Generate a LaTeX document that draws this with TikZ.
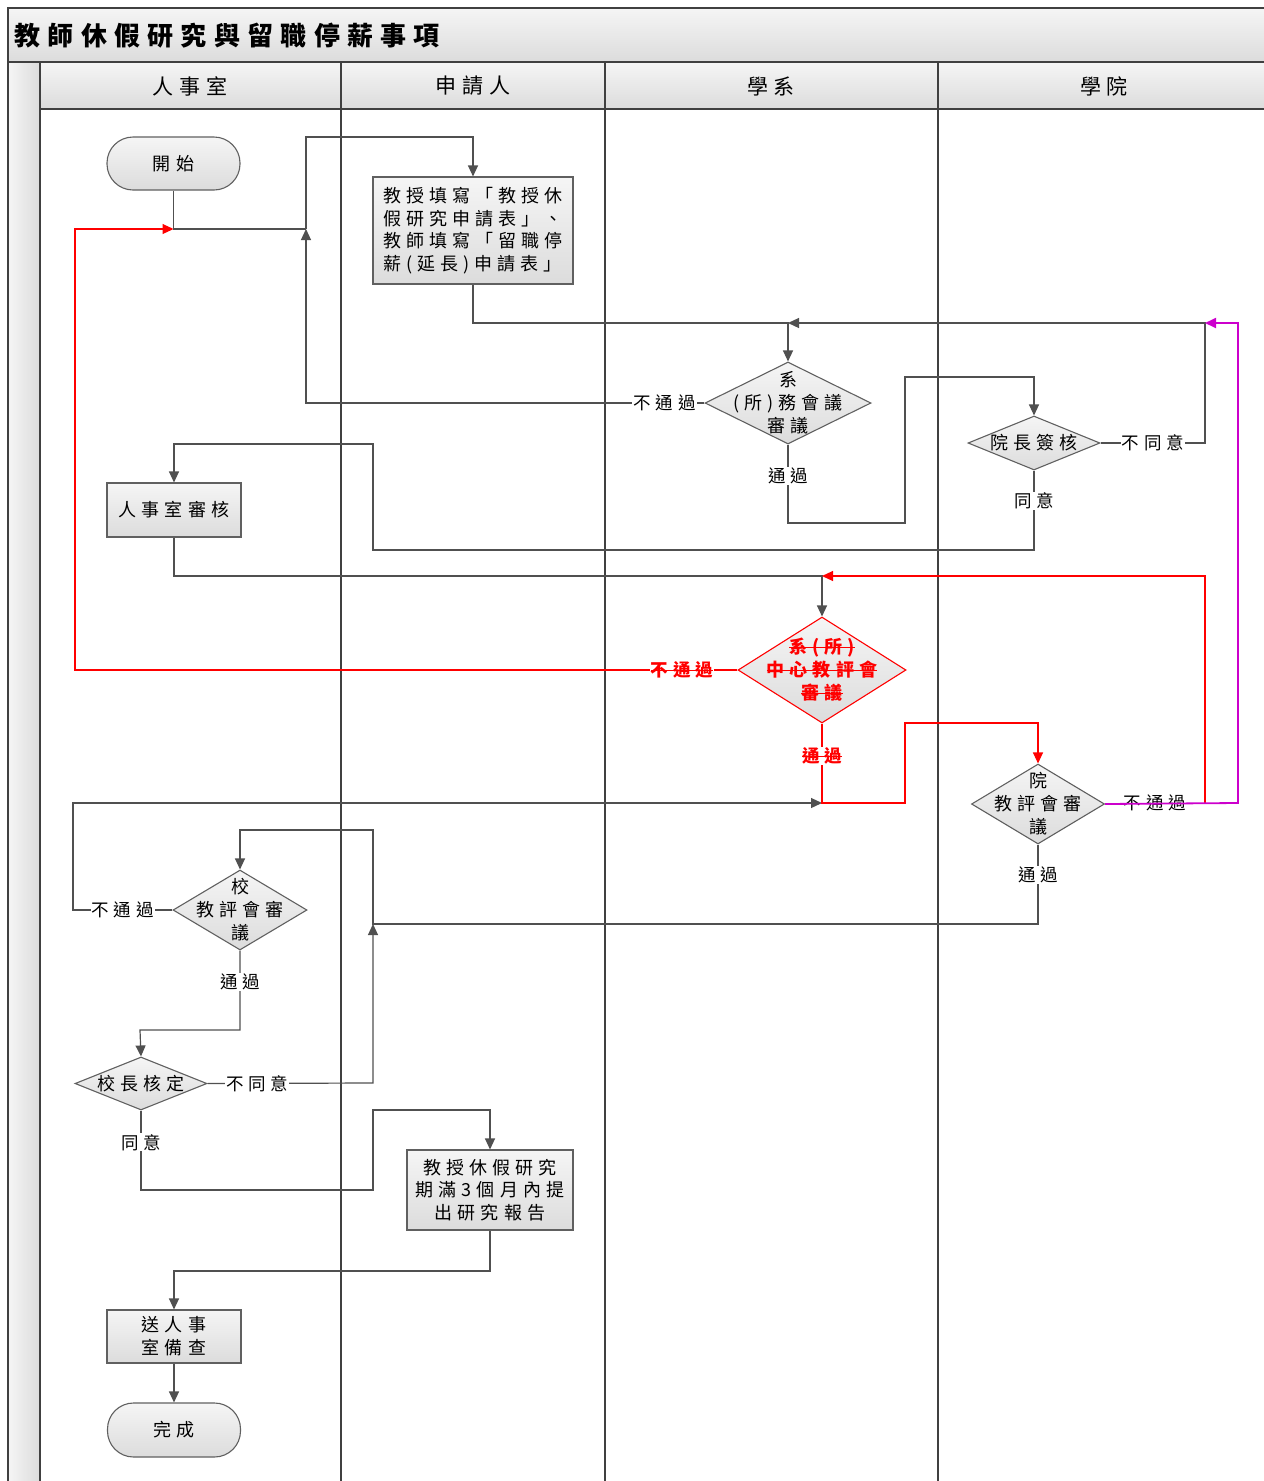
\documentclass[tikz,border=0pt]{standalone}
\usepackage{fontspec}
\setmainfont{Noto Sans CJK TC}[LetterSpace=28]
\usetikzlibrary{shapes.geometric,arrows.meta,positioning}

\definecolor{lineg}{HTML}{505050}
\definecolor{laneg}{HTML}{404040}
\definecolor{boxg}{HTML}{606060}
\definecolor{shtop}{HTML}{F5F5F5}
\definecolor{shbot}{HTML}{DCDCDC}
\definecolor{magen}{HTML}{CC00CC}

% struck-out text
\newcommand\strk[1]{\sbox0{#1}\rlap{\rule[0.34em]{\wd0}{0.9pt}}\usebox0}

\tikzset{
  line/.style={draw=lineg, line width=1.2pt},
  arr/.style={line, -{Triangle[length=11pt,width=10pt]}},
  redarr/.style={draw=red, line width=1.1pt, -{Triangle[length=11pt,width=10pt]}},
  lane/.style={draw=laneg, line width=1.4pt},
  box/.style={draw=boxg, line width=1.1pt, top color=shtop, bottom color=shbot,
    inner sep=0pt, font=\fontsize{18pt}{22.7pt}\selectfont},
  proc/.style={box, rectangle, align=center},
  term/.style={box, rectangle, rounded corners=26pt},
  decide/.style={box, diamond},
  intext/.style={font=\fontsize{18pt}{23pt}\selectfont, align=center, inner sep=0pt},
  lbl/.style={fill=white, inner sep=1pt, font=\fontsize{17.5pt}{20pt}\selectfont},
  redlbl/.style={lbl, text=red, font=\fontsize{17.5pt}{20pt}\selectfont\bfseries},
  hdr/.style={font=\fontsize{21pt}{24pt}\selectfont},
}

\begin{document}
\begin{tikzpicture}[x=1pt, y=-1pt]
    \useasboundingbox (0,0) rectangle (1264,1481);

    % Title band, header row and left strip
    \shade[top color=shtop, bottom color=shbot] (8,8) rectangle (1264,62);
    \shade[top color=shtop, bottom color=shbot] (40,62) rectangle (1264,109);
    \shade[left color=shtop, right color=shbot] (8,62) rectangle (40,1481);
    \draw[lane] (8,1481) -- (8,8) -- (1264,8);
    \draw[lane] (8,62) -- (1264,62);
    \draw[lane] (40,109) -- (1264,109);
    \foreach \x in {40,341,605,938}
        \draw[lane] (\x,62) -- (\x,1481);

    \node[anchor=west, font=\fontsize{26pt}{30pt}\selectfont\bfseries] (title) at (11,36) {教師休假研究與留職停薪事項};
    \node[hdr] (hHR) at (190,86) {人事室};
    \node[hdr] (hApp) at (473,86) {申請人};
    \node[hdr] (hDep) at (771,86) {學系};
    \node[hdr] (hCol) at (1104,86) {學院};

    % Define nodes
    \node[term, minimum width=133pt, minimum height=53pt] (start) at (173.5,163.5) {開始};
    \node[proc, align=left, minimum width=200pt, minimum height=107pt] (apply) at (473,230.5)
        {教授填寫「教授休\\假研究申請表」、\\教師填寫「留職停\\薪(延長)申請表」};
    \node[decide, minimum width=166pt, minimum height=82pt,
        label={[intext]center:{系\\(所)務會議\\審議}}] (sysmeet) at (788,403) {};
    \node[decide, minimum width=132pt, minimum height=54pt,
        label={[intext]center:{院長簽核}}] (deanok) at (1034,443) {};
    \node[proc, minimum width=134pt, minimum height=54pt] (hrcheck) at (174,510) {人事室審核};
    \node[decide, draw=red, minimum width=168pt, minimum height=106pt,
        label={[intext, text=red, font=\fontsize{18pt}{23pt}\selectfont\bfseries]center:{\strk{系(所)}\\\strk{中心教評會}\\\strk{審議}}}] (redmeet) at (822,670) {};
    \node[decide, minimum width=133pt, minimum height=80pt,
        label={[intext]center:{院\\教評會審\\議}}] (colmeet) at (1038,804) {};
    \node[decide, minimum width=134pt, minimum height=80pt,
        label={[intext]center:{校\\教評會審\\議}}] (unimeet) at (240,910) {};
    \node[decide, minimum width=132pt, minimum height=53pt,
        label={[intext]center:{校長核定}}] (presok) at (141,1083.5) {};
    \node[proc, minimum width=166pt, minimum height=80pt] (report) at (490,1190)
        {教授休假研究\\期滿3個月內提\\出研究報告};
    \node[proc, minimum width=134pt, minimum height=53pt] (send) at (174,1336.5) {送人事\\室備查};
    \node[term, minimum width=133pt, minimum height=54pt] (done) at (174,1430) {完成};

    % Define coordinates
    \coordinate (jA) at (306,229);
    \coordinate (topA) at (306,137);
    \coordinate (bA) at (306,403);
    \coordinate (rA) at (75,670);
    \coordinate (jB) at (788,323);
    \coordinate (kA) at (1205,443);
    \coordinate (kB) at (1205,323);
    \coordinate (cA) at (905,523);
    \coordinate (cB) at (905,377);
    \coordinate (dA) at (373,550);
    \coordinate (dB) at (373,444);
    \coordinate (jC) at (822,576);
    \coordinate (kC) at (1205,803);
    \coordinate (jD) at (822,803);
    \coordinate (eA) at (905,803);
    \coordinate (eB) at (905,723);
    \coordinate (fA) at (73,910);
    \coordinate (fB) at (73,803);
    \coordinate (mA) at (1238,803);
    \coordinate (mB) at (1238,323);
    \coordinate (gA) at (373,924);
    \coordinate (gB) at (373,830);
    \coordinate (hA) at (373,1083);
    \coordinate (iA) at (140,1030);
    \coordinate (jE) at (373,1190);
    \coordinate (jF) at (373,1110);
    \coordinate (kD) at (174,1271);

    % Draw connectors
    \draw[line] (start.south) |- (jA);
    \draw[arr] (jA) -- (topA) -| (apply.north);
    \draw[arr] (sysmeet.west) -- node[lbl, pos=0.1] {不通過} (bA) -- (jA);
    \draw[arr] (apply.south) |- (jB) -- (sysmeet.north);
    \draw[arr] (deanok.east) -- node[lbl] {不同意} (kA) -- (kB) -- (jB);
    \draw[arr] (sysmeet.south) |- node[lbl, pos=0.2] {通過} (cA) -- (cB) -| (deanok.north);
    \draw[arr] (deanok.south) |- node[lbl, pos=0.19] {同意} (dA) -- (dB) -| (hrcheck.north);
    \draw[arr] (hrcheck.south) |- (jC) -- (redmeet.north);
    \draw[arr] (unimeet.west) -- node[lbl] {不通過} (fA) -- (fB) -- (jD);
    \draw[redarr] (redmeet.west) -- node[redlbl, pos=0.084] {\strk{不通過}} (rA) |- (start.south |- jA);
    \draw[redarr] (redmeet.south) -- node[redlbl, pos=0.41] {\strk{通過}} (jD) -- (eA) -- (eB) -| (colmeet.north);
    \draw[redarr] (kC) |- (jC);
    \node[font=\fontsize{17.5pt}{20pt}\selectfont] (colno) at (1155,803) {不通過};
    \draw[draw=magen, line width=1.8pt, -{Triangle[length=11pt,width=10pt]}] (colmeet.east) -- (mA) -- (mB) -- (kB);
    \draw[arr] (colmeet.south) |- node[lbl, pos=0.19] {通過} (gA) -- (gB) -| (unimeet.north);
    \draw[arr] (presok.east) -- node[lbl, pos=0.3] {不同意} (hA) -- (gA);
    \draw[arr] (unimeet.south) |- node[lbl, pos=0.2] {通過} (iA) -- (presok.north);
    \draw[arr] (presok.south) |- node[lbl, pos=0.2] {同意} (jE) -- (jF) -| (report.north);
    \draw[arr] (report.south) |- (kD) -- (send.north);
    \draw[arr] (send.south) -- (done.north);

\end{tikzpicture}
\end{document}
